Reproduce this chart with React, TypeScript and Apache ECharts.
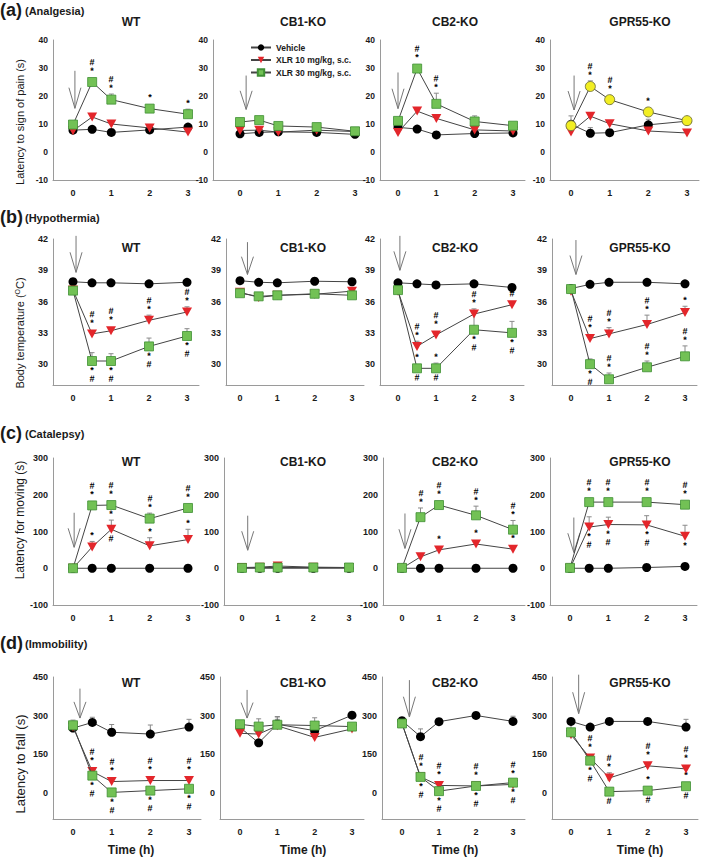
import React, { useEffect, useRef } from 'react';
import * as echarts from 'echarts';

const FONT = '"Liberation Sans", Arial, Helvetica, sans-serif';

// ---------- categories / labels ----------
const times = [0, 0.5, 1, 2, 3];
const timeTicks = [0, 1, 2, 3];
const panelNames = ['WT', 'CB1-KO', 'CB2-KO', 'GPR55-KO'];
const groupNames = ['Vehicle', 'XLR 10 mg/kg, s.c.', 'XLR 30 mg/kg, s.c.'];
const rowLetters = ['(a)', '(b)', '(c)', '(d)'];
const rowTitles = ['(Analgesia)', '(Hypothermia)', '(Catalepsy)', '(Immobility)'];
const yTitles = ['Latency to sign of pain (s)', 'Body temperature (OC)', 'Latency for moving (s)', 'Latency to fall (s)'];
const xTitle = 'Time (h)';
const yTicksA = [-10, 0, 10, 20, 30, 40];
const yTicksB = [30, 33, 36, 39, 42];
const yTicksC = [-100, 0, 100, 200, 300];
const yTicksD = [0, 150, 300, 450];
const none = ['', '', '', '', ''];

// ---------- (a) Analgesia ----------
const aWT_veh = [7.8, 8.1, 7.0, 7.9, 8.9];
const aWT_veh_err = [0.5, 0.5, 0.4, 0.5, 0.6];
const aWT_x10 = [7.6, 12.5, 10.0, 8.6, 7.1];
const aWT_x10_err = [0.5, 1.2, 0.6, 0.5, 0.4];
const aWT_x30 = [9.8, 25.0, 18.7, 15.5, 13.5];
const aWT_x30_err = [0.8, 1.5, 2.0, 1.5, 1.8];
const aWT_x30_up = ['', '#*', '#*', '*', '*'];
const aWT_arrow = [0.05, 29, 15.6];

const aCB1_veh = [6.5, 7.0, 7.2, 7.0, 6.3];
const aCB1_veh_err = [0.3, 0.3, 0.3, 0.3, 0.3];
const aCB1_x10 = [7.7, 7.8, 7.1, 7.8, 7.3];
const aCB1_x10_err = [0.3, 0.4, 0.3, 0.4, 0.3];
const aCB1_x30 = [10.7, 11.4, 9.3, 8.9, 7.4];
const aCB1_x30_err = [0.5, 1.3, 0.5, 0.5, 0.5];
const aCB1_arrow = [0.16, 27.3, 15.2];

const aCB2_veh = [8.8, 8.2, 6.1, 6.6, 6.8];
const aCB2_veh_err = [0.5, 0.4, 0.3, 0.3, 0.3];
const aCB2_x10 = [7.0, 14.6, 12.0, 7.9, 7.5];
const aCB2_x10_err = [0.3, 1.0, 0.5, 0.5, 0.5];
const aCB2_x30 = [11.1, 29.8, 17.2, 10.9, 9.4];
const aCB2_x30_err = [0.8, 0.5, 3.8, 2.0, 1.3];
const aCB2_x30_up = ['', '#*', '#*', '', ''];
const aCB2_arrow = [0.0, 28.4, 15.5];

const aGPR_veh = [9.9, 6.7, 6.9, 9.7, 11.0];
const aGPR_veh_err = [3.0, 2.0, 0.5, 2.0, 0.8];
const aGPR_x10 = [7.1, 12.8, 10.1, 7.5, 6.8];
const aGPR_x10_err = [0.5, 1.5, 1.0, 0.5, 0.3];
const aGPR_x30 = [9.4, 23.4, 18.7, 14.3, 11.2];
const aGPR_x30_err = [0.8, 2.0, 1.5, 1.5, 1.0];
const aGPR_x30_up = ['', '#*', '#*', '*', ''];
const aGPR_arrow = [0.08, 27.3, 15.0];

// ---------- (b) Hypothermia ----------
const bWT_veh = [37.9, 37.8, 37.8, 37.7, 37.85];
const bWT_veh_err = [0.1, 0.1, 0.1, 0.1, 0.1];
const bWT_x10 = [37.1, 32.9, 33.2, 34.2, 35.0];
const bWT_x10_err = [0.1, 0.3, 0.4, 0.5, 0.5];
const bWT_x10_up = ['', '#*', '#*', '#*', '#*'];
const bWT_x30 = [37.05, 30.3, 30.3, 31.7, 32.7];
const bWT_x30_err = [0.1, 0.8, 0.7, 0.8, 0.7];
const bWT_x30_dn = ['', '*#', '*#', '*#', '*#'];
const bWT_arrow = [0.08, 42.3, 38.8];

const bCB1_veh = [38.0, 37.85, 37.8, 37.95, 37.9];
const bCB1_veh_err = [0.1, 0.1, 0.1, 0.1, 0.1];
const bCB1_x10 = [36.9, 36.4, 36.6, 36.7, 37.0];
const bCB1_x10_err = [0.1, 0.1, 0.1, 0.1, 0.1];
const bCB1_x30 = [36.8, 36.5, 36.6, 36.75, 36.6];
const bCB1_x30_err = [0.1, 0.1, 0.1, 0.1, 0.1];
const bCB1_arrow = [0.2, 41.7, 38.6];

const bCB2_veh = [37.8, 37.7, 37.6, 37.7, 37.35];
const bCB2_veh_err = [0.1, 0.1, 0.1, 0.1, 0.1];
const bCB2_x10 = [37.0, 31.7, 32.8, 34.8, 35.7];
const bCB2_x10_err = [0.1, 0.5, 0.4, 0.5, 0.3];
const bCB2_x10_up = ['', '#*', '#*', '#*', '#'];
const bCB2_x30 = [37.1, 29.6, 29.6, 33.3, 33.0];
const bCB2_x30_err = [0.1, 0.4, 0.5, 1.8, 1.1];
const bCB2_x30_up = ['', '*', '*', '', ''];
const bCB2_x30_dn = ['', '#', '#', '*#', '*#'];
const bCB2_arrow = [0.05, 42.3, 39.0];

const bGPR_veh = [37.25, 37.65, 37.85, 37.85, 37.7];
const bGPR_veh_err = [0.1, 0.1, 0.1, 0.1, 0.1];
const bGPR_x10 = [37.0, 32.45, 32.9, 33.8, 34.95];
const bGPR_x10_err = [0.1, 0.4, 0.6, 0.9, 0.6];
const bGPR_x10_up = ['', '#*', '#*', '#*', '*'];
const bGPR_x30 = [37.2, 30.0, 28.55, 29.7, 30.75];
const bGPR_x30_err = [0.1, 0.5, 0.6, 0.6, 1.0];
const bGPR_x30_up = ['', '', '#*', '#*', '#*'];
const bGPR_x30_dn = ['', '*#', '', '', ''];
const bGPR_arrow = [0.13, 41.9, 38.6];

// ---------- (c) Catalepsy ----------
const cWT_veh = [0, 0, 0, 0, 0];
const cWT_veh_err = [0, 0, 0, 0, 0];
const cWT_x10 = [0, 58, 106, 61, 78];
const cWT_x10_err = [2, 15, 25, 22, 28];
const cWT_x10_up = ['', '*', '*', '*', '*'];
const cWT_x10_dn = ['', '', '#', '', ''];
const cWT_x30 = [0, 171, 172, 135, 164];
const cWT_x30_err = [2, 5, 5, 15, 5];
const cWT_x30_up = ['', '#*', '#*', '#*', '#*'];
const cWT_arrow = [0.03, 151, 57];

const cCB1_veh = [0, 0, 0, 0, 0];
const cCB1_veh_err = [0, 0, 0, 0, 0];
const cCB1_x10 = [2, 3, 6, 3, 2];
const cCB1_x10_err = [1, 1, 2, 1, 1];
const cCB1_x30 = [1, 2, 2, 2, 2];
const cCB1_x30_err = [1, 1, 1, 1, 1];
const cCB1_arrow = [0.16, 143, 49];

const cCB2_veh = [0, 0, 0, 0, 0];
const cCB2_veh_err = [0, 0, 0, 0, 0];
const cCB2_x10 = [0, 31, 50, 66, 52];
const cCB2_x10_err = [1, 5, 12, 12, 10];
const cCB2_x10_up = ['', '', '*', '*', '*'];
const cCB2_x30 = [1, 139, 172, 144, 105];
const cCB2_x30_err = [1, 25, 5, 25, 25];
const cCB2_x30_up = ['', '#*', '#*', '#*', '#*'];
const cCB2_arrow = [0.08, 149, 54];

const cGPR_veh = [0, 0, 0, 2, 5];
const cGPR_veh_err = [0, 0, 0, 1, 2];
const cGPR_x10 = [0, 112, 119, 118, 87];
const cGPR_x10_err = [1, 28, 20, 25, 30];
const cGPR_x10_dn = ['', '*#', '*#', '*#', '*'];
const cGPR_x30 = [1, 180, 180, 180, 173];
const cGPR_x30_err = [1, 4, 4, 4, 6];
const cGPR_x30_up = ['', '#*', '#*', '#*', '#*'];
const cGPR_arrow = [0.1, 138, 43];

// ---------- (d) Immobility ----------
const dWT_veh = [252, 274, 236, 229, 256];
const dWT_veh_err = [25, 20, 30, 35, 30];
const dWT_x10 = [256, 84, 45, 49, 49];
const dWT_x10_err = [10, 8, 6, 6, 6];
const dWT_x10_up = ['', '#*', '#*', '#*', '#*'];
const dWT_x30 = [263, 68, 3, 10, 17];
const dWT_x30_err = [20, 8, 4, 4, 4];
const dWT_x30_dn = ['', '*#', '*#', '*#', '*#'];
const dWT_arrow = [0.18, 405, 291];

const dCB1_veh = [255, 195, 267, 242, 302];
const dCB1_veh_err = [25, 15, 30, 25, 10];
const dCB1_x10 = [232, 229, 261, 216, 249];
const dCB1_x10_err = [20, 15, 25, 15, 10];
const dCB1_x30 = [267, 258, 265, 262, 258];
const dCB1_x30_err = [15, 30, 30, 30, 15];
const dCB1_arrow = [0.19, 400, 291];

const dCB2_veh = [281, 219, 277, 301, 278];
const dCB2_veh_err = [10, 30, 10, 8, 20];
const dCB2_x10 = [270, 63, 30, 28, 34];
const dCB2_x10_err = [5, 8, 5, 5, 5];
const dCB2_x10_up = ['', '#*', '#*', '#*', '#*'];
const dCB2_x30 = [270, 63, 8, 28, 41];
const dCB2_x30_err = [5, 8, 5, 5, 5];
const dCB2_x30_dn = ['', '*#', '*#', '*#', '*#'];
const dCB2_arrow = [0.2, 438, 295];

const dGPR_veh = [278, 256, 278, 278, 256];
const dGPR_veh_err = [10, 15, 8, 10, 30];
const dGPR_x10 = [226, 136, 59, 106, 94];
const dGPR_x10_err = [10, 8, 20, 15, 15];
const dGPR_x10_up = ['', '#*', '#*', '#*', '#*'];
const dGPR_x30 = [236, 126, 6, 10, 27];
const dGPR_x30_err = [30, 10, 5, 5, 8];
const dGPR_x30_up = ['', '', '*', '*', '*'];
const dGPR_x30_dn = ['', '*#', '#', '#', '#'];
const dGPR_arrow = [0.2, 459, 308];

// ---------- assembling (structure only) ----------
const G = (v: number[], e: number[], up: string[] = none, dn: string[] = none) => ({ v, e, up, dn });

const rowsData = [
  [
    { groups: [G(aWT_veh, aWT_veh_err), G(aWT_x10, aWT_x10_err), G(aWT_x30, aWT_x30_err, aWT_x30_up)], arrow: aWT_arrow },
    { groups: [G(aCB1_veh, aCB1_veh_err), G(aCB1_x10, aCB1_x10_err), G(aCB1_x30, aCB1_x30_err)], arrow: aCB1_arrow },
    { groups: [G(aCB2_veh, aCB2_veh_err), G(aCB2_x10, aCB2_x10_err), G(aCB2_x30, aCB2_x30_err, aCB2_x30_up)], arrow: aCB2_arrow },
    { groups: [G(aGPR_veh, aGPR_veh_err), G(aGPR_x10, aGPR_x10_err), G(aGPR_x30, aGPR_x30_err, aGPR_x30_up)], arrow: aGPR_arrow, yellow: true },
  ],
  [
    { groups: [G(bWT_veh, bWT_veh_err), G(bWT_x10, bWT_x10_err, bWT_x10_up), G(bWT_x30, bWT_x30_err, none, bWT_x30_dn)], arrow: bWT_arrow },
    { groups: [G(bCB1_veh, bCB1_veh_err), G(bCB1_x10, bCB1_x10_err), G(bCB1_x30, bCB1_x30_err)], arrow: bCB1_arrow },
    { groups: [G(bCB2_veh, bCB2_veh_err), G(bCB2_x10, bCB2_x10_err, bCB2_x10_up), G(bCB2_x30, bCB2_x30_err, bCB2_x30_up, bCB2_x30_dn)], arrow: bCB2_arrow },
    { groups: [G(bGPR_veh, bGPR_veh_err), G(bGPR_x10, bGPR_x10_err, bGPR_x10_up), G(bGPR_x30, bGPR_x30_err, bGPR_x30_up, bGPR_x30_dn)], arrow: bGPR_arrow },
  ],
  [
    { groups: [G(cWT_veh, cWT_veh_err), G(cWT_x10, cWT_x10_err, cWT_x10_up, cWT_x10_dn), G(cWT_x30, cWT_x30_err, cWT_x30_up)], arrow: cWT_arrow },
    { groups: [G(cCB1_veh, cCB1_veh_err), G(cCB1_x10, cCB1_x10_err), G(cCB1_x30, cCB1_x30_err)], arrow: cCB1_arrow },
    { groups: [G(cCB2_veh, cCB2_veh_err), G(cCB2_x10, cCB2_x10_err, cCB2_x10_up), G(cCB2_x30, cCB2_x30_err, cCB2_x30_up)], arrow: cCB2_arrow },
    { groups: [G(cGPR_veh, cGPR_veh_err), G(cGPR_x10, cGPR_x10_err, none, cGPR_x10_dn), G(cGPR_x30, cGPR_x30_err, cGPR_x30_up)], arrow: cGPR_arrow },
  ],
  [
    { groups: [G(dWT_veh, dWT_veh_err), G(dWT_x10, dWT_x10_err, dWT_x10_up), G(dWT_x30, dWT_x30_err, none, dWT_x30_dn)], arrow: dWT_arrow },
    { groups: [G(dCB1_veh, dCB1_veh_err), G(dCB1_x10, dCB1_x10_err), G(dCB1_x30, dCB1_x30_err)], arrow: dCB1_arrow },
    { groups: [G(dCB2_veh, dCB2_veh_err), G(dCB2_x10, dCB2_x10_err, dCB2_x10_up), G(dCB2_x30, dCB2_x30_err, none, dCB2_x30_dn)], arrow: dCB2_arrow },
    { groups: [G(dGPR_veh, dGPR_veh_err), G(dGPR_x10, dGPR_x10_err, dGPR_x10_up), G(dGPR_x30, dGPR_x30_err, dGPR_x30_up, dGPR_x30_dn)], arrow: dGPR_arrow },
  ],
];

const yAxesSpec = [
  { min: -10, max: 40, ticks: yTicksA, fs: 8.5 },
  { min: 28, max: 42, ticks: yTicksB, fs: 9 },
  { min: -100, max: 300, ticks: yTicksC, fs: 9 },
  { min: -100, max: 450, ticks: yTicksD, fs: 9 },
];

// layout: [axisX, pixel of t=0, pixel of t=3]
const layout = [
  { top: 40, bottom: 180, cols: [[53, 73, 188], [213, 240, 355], [380, 398, 513], [550, 571, 687]] },
  { top: 239, bottom: 385, cols: [[53, 73, 187], [226, 240, 352], [380, 398, 512], [552, 571, 685]] },
  { top: 458, bottom: 605, cols: [[53, 73, 188], [224, 242, 349], [383, 402, 513], [550, 570, 685]] },
  { top: 677, bottom: 819, cols: [[53, 73, 189], [220, 240, 352], [382, 402, 513], [552, 571, 686]] },
];
const titleY = [22, 248, 462, 683];
const titleX = [131, 303, 455, 640];
const rowLabelY = [10, 217, 433, 643];
const yTitleY = [122, 333, 520, 764];
const yTitleFs = [11, 11, 12, 13];

const LINE = '#444';
const AXIS = '#9a9a9a';
const TXT = '#1a1a1a';
const ERR = '#8a8a8a';

const markerStyles = [
  { symbol: 'circle', symbolSize: 9, itemStyle: { color: '#000000' } },
  { symbol: 'path://M0,0 L10,0 L5,9 Z', symbolSize: [10, 9], itemStyle: { color: '#e3262b' } },
  { symbol: 'rect', symbolSize: 9, itemStyle: { color: '#72c155', borderColor: '#3f8f34', borderWidth: 0.8 } },
];
const yellowStyle = { symbol: 'circle', symbolSize: 10, itemStyle: { color: '#f2ee22', borderColor: '#7d7d40', borderWidth: 1 } };

function txtStyle(extra: any) {
  return {
    fontFamily: FONT,
    fill: TXT,
    textFill: TXT,
    ...extra,
  };
}

function annStyle(text: string, vAlign: string) {
  return {
    legacy: false,
    text: text.split('').join('\n'),
    fontSize: 9,
    fontWeight: 'bold',
    fontFamily: FONT,
    lineHeight: 8.5,
    fill: '#000000',
    align: 'center',
    verticalAlign: vAlign,
  };
}

function errRenderer(up: string[], dn: string[]) {
  return (params: any, api: any) => {
    const i = params.dataIndex;
    const t = api.value(0);
    const v = api.value(1);
    const e = api.value(2);
    const p = api.coord([t, v]);
    const q = api.coord([t, v + e]);
    const children: any[] = [];
    if (e > 0 && p[1] - q[1] > 4.5) {
      children.push({ type: 'line', shape: { x1: p[0], y1: p[1], x2: q[0], y2: q[1] }, style: { stroke: ERR, lineWidth: 1 } });
      children.push({ type: 'line', shape: { x1: q[0] - 2.5, y1: q[1], x2: q[0] + 2.5, y2: q[1] }, style: { stroke: ERR, lineWidth: 1 } });
    }
    if (up[i]) {
      const yTop = Math.min(q[1], p[1] - 5) - 2;
      children.push({ type: 'text', x: Math.round(p[0]), y: yTop, rotation: 0.002, style: annStyle(up[i], 'bottom') });
    }
    if (dn[i]) {
      children.push({ type: 'text', x: Math.round(p[0]), y: p[1] + 5, rotation: 0.002, style: annStyle(dn[i], 'top') });
    }
    return { type: 'group', children };
  };
}

function arrowRenderer(params: any, api: any) {
  const t = api.value(0);
  const top = api.coord([t, api.value(1)]);
  const tip = api.coord([t, api.value(2)]);
  const armY = top[1] + (tip[1] - top[1]) * 0.45;
  return {
    type: 'group',
    children: [
      { type: 'line', shape: { x1: top[0], y1: top[1], x2: tip[0], y2: tip[1] }, style: { stroke: '#777', lineWidth: 1 } },
      { type: 'polyline', shape: { points: [[tip[0] - 6, armY], [tip[0], tip[1]], [tip[0] + 6, armY]] }, style: { stroke: '#777', fill: null, lineWidth: 1 } },
    ],
  };
}

function centered(extra: any) {
  return txtStyle({ align: 'center', textAlign: 'center', verticalAlign: 'middle', textVerticalAlign: 'middle', ...extra });
}

function buildOption() {
  const grid: any[] = [];
  const xAxis: any[] = [];
  const yAxis: any[] = [];
  const series: any[] = [];
  const graphic: any[] = [];

  rowsData.forEach((row, r) => {
    const L = layout[r];
    const ys = yAxesSpec[r];
    row.forEach((panel: any, c) => {
      const gi = r * 4 + c;
      const [ax, p0, p3] = L.cols[c];
      const s = (p3 - p0) / 3;
      const right = p3 + 12;
      const xmin = -(p0 - ax) / s;
      const xmax = 3 + (right - p3) / s;
      grid.push({ left: ax, top: L.top, width: right - ax, height: L.bottom - L.top });
      xAxis.push({
        gridIndex: gi, type: 'value', min: xmin, max: xmax,
        axisLine: { onZero: false, lineStyle: { color: AXIS, width: 1 } },
        axisTick: { show: false, customValues: timeTicks },
        splitLine: { show: false },
        axisLabel: { customValues: timeTicks, margin: 8, fontSize: 9, fontWeight: 'bold', fontFamily: FONT, color: TXT },
      });
      yAxis.push({
        gridIndex: gi, type: 'value', min: ys.min, max: ys.max,
        axisLine: { show: true, onZero: false, lineStyle: { color: AXIS, width: 1 } },
        axisTick: { show: false, customValues: ys.ticks },
        splitLine: { show: false },
        axisLabel: { customValues: ys.ticks, margin: 5, fontSize: ys.fs, fontWeight: 'bold', fontFamily: FONT, color: TXT },
      });
      // error bars and significance marks
      panel.groups.forEach((g: any, k: number) => {
        series.push({
          type: 'custom', name: 'err' + gi + '_' + k, coordinateSystem: 'cartesian2d',
          xAxisIndex: gi, yAxisIndex: gi, z: 1, clip: false, silent: true,
          itemStyle: { color: '#000000' },
          data: times.map((t, i) => [t, g.v[i], g.e[i]]),
          renderItem: errRenderer(g.up, g.dn),
        });
      });
      // lines with markers
      panel.groups.forEach((g: any, k: number) => {
        const ms = panel.yellow && k === 2 ? yellowStyle : markerStyles[k];
        series.push({
          type: 'line', name: groupNames[k], xAxisIndex: gi, yAxisIndex: gi, z: 2 + k,
          data: times.map((t, i) => [t, g.v[i]]),
          lineStyle: { color: LINE, width: 1 },
          symbol: ms.symbol, symbolSize: ms.symbolSize, itemStyle: ms.itemStyle,
          showSymbol: true, silent: true, clip: false,
        });
      });
      // injection arrow
      series.push({
        type: 'custom', name: 'arrow' + gi, coordinateSystem: 'cartesian2d',
        xAxisIndex: gi, yAxisIndex: gi, z: 1, clip: false, silent: true,
        itemStyle: { color: '#777' },
        data: [panel.arrow], renderItem: arrowRenderer,
      });
      // panel title
      graphic.push({
        type: 'text', x: titleX[c], y: titleY[r],
        style: centered({ text: panelNames[c], fontSize: 12, fontWeight: 'bold' }),
      });
      if (r === 3) {
        graphic.push({
          type: 'text', x: titleX[c], y: 850,
          style: centered({ text: xTitle, fontSize: 12, fontWeight: 'bold' }),
        });
      }
    });
    // row letter and title
    graphic.push({
      type: 'text', x: 0, y: rowLabelY[r],
      style: txtStyle({ text: rowLetters[r], fontSize: 18, fontWeight: 'bold', align: 'left', textAlign: 'left', verticalAlign: 'middle', textVerticalAlign: 'middle' }),
    });
    graphic.push({
      type: 'text', x: 25, y: rowLabelY[r] + 1,
      style: txtStyle({ text: rowTitles[r], fontSize: 11, fontWeight: 'bold', align: 'left', textAlign: 'left', verticalAlign: 'middle', textVerticalAlign: 'middle' }),
    });
    // y title
    const yt = yTitles[r];
    const fs = yTitleFs[r];
    const ytStyle: any = r === 1
      ? {
          text: '{n|Body temperature (}{s|O}{n|C)}',
          rich: {
            n: { fontSize: fs, fontFamily: FONT, fill: TXT, fontWeight: 'normal' },
            s: { fontSize: 7, fontFamily: FONT, fill: TXT, verticalAlign: 'top', padding: [0, 0, 5, 0] },
          },
        }
      : { text: yt, fontSize: fs };
    graphic.push({
      type: 'text', x: 20, y: yTitleY[r], rotation: Math.PI / 2,
      style: centered(ytStyle),
    });
  });

  return {
    animation: false,
    backgroundColor: '#ffffff',
    textStyle: { fontFamily: FONT },
    grid,
    xAxis,
    yAxis,
    series,
    graphic,
    legend: {
      data: groupNames,
      orient: 'vertical',
      left: 250,
      top: 43,
      padding: 0,
      itemGap: 3.5,
      itemWidth: 20,
      itemHeight: 8,
      selectedMode: false,
      textStyle: { fontSize: 8.5, fontWeight: 'bold', fontFamily: FONT, color: TXT },
    },
  };
}

export default function App() {
  const ref = useRef<HTMLDivElement>(null);
  useEffect(() => {
    document.body.style.margin = '0';
    const chart = echarts.init(ref.current as HTMLDivElement, undefined, { renderer: 'svg' });
    chart.setOption(buildOption() as any);
    return () => chart.dispose();
  }, []);
  return <div ref={ref} style={{ width: 709, height: 860 }} />;
}
